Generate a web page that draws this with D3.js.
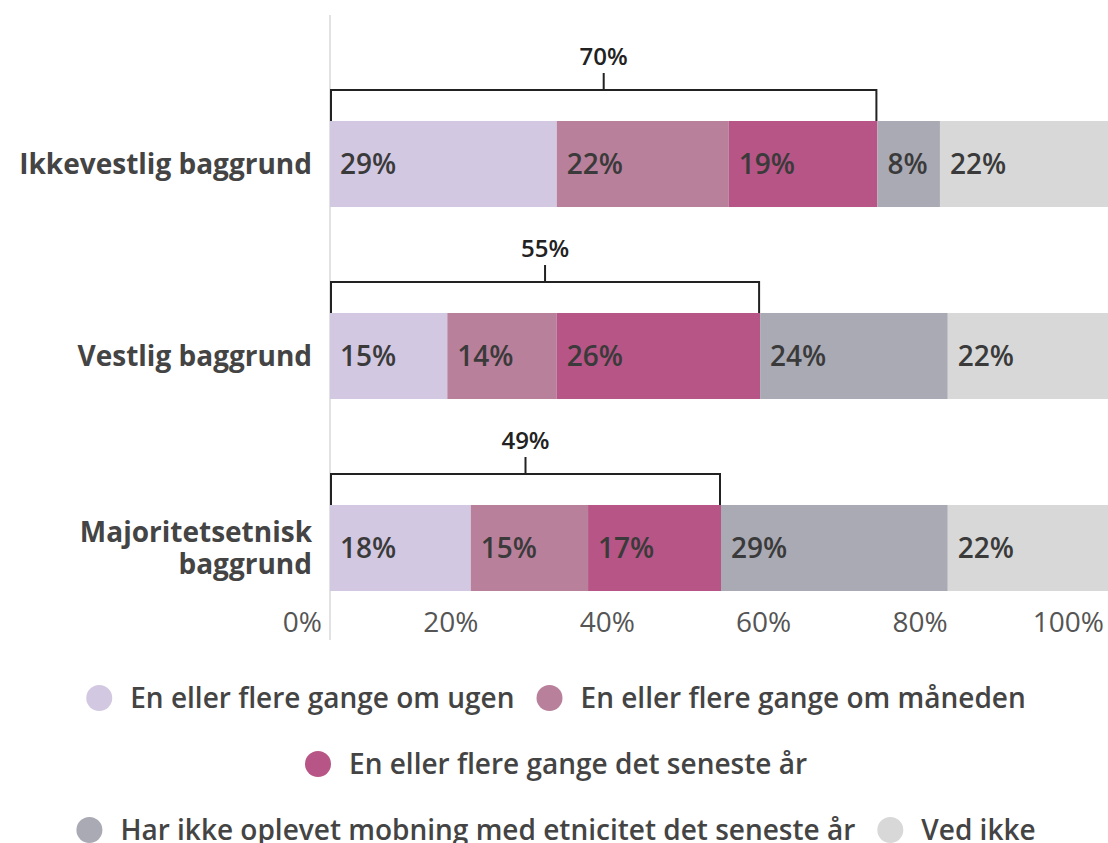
<!DOCTYPE html>
<html>
<head>
<meta charset="utf-8">
<script src="https://cdn.jsdelivr.net/npm/d3@7"></script>
<style>
  body { margin: 0; background: #fff; }
  svg { display: block; font-family: "Open Sans", "Noto Sans", sans-serif; }
</style>
</head>
<body>
<div id="chart"></div>
<script>
const groups = ['Ikkevestlig baggrund', 'Vestlig baggrund', 'Majoritetsetnisk baggrund'];
const series = [
    'En eller flere gange om ugen',
    'En eller flere gange om måneden',
    'En eller flere gange det seneste år',
    'Har ikke oplevet mobning med etnicitet det seneste år',
    'Ved ikke'
];
const colors = ['#d3c8e2', '#b9809c', '#b75586', '#aaaab5', '#d8d8d8'];
const values = [
    [29, 22, 19, 8, 22],
    [15, 14, 26, 24, 22],
    [18, 15, 17, 29, 22]
];
const bracketLabels = ['70%', '55%', '49%'];
const ticks = [0, 20, 40, 60, 80, 100];

const width = 1108, height = 843;

const svg = d3.select('#chart').append('svg')
    .attr('width', width)
    .attr('height', height);

const x = d3.scaleLinear().domain([0, 100]).range([330, 1112]);
const y = d3.scaleBand().domain(groups).range([121, 591]).paddingInner(0.552).paddingOuter(0);

// vertical baseline
svg.append('line')
    .attr('x1', x(0)).attr('x2', x(0))
    .attr('y1', 15).attr('y2', 640)
    .attr('stroke', '#e2e2e2').attr('stroke-width', 2);

const rows = svg.selectAll('g.row')
    .data(groups.map((g, i) => {
        let acc = 0;
        const segs = values[i].map((v, j) => {
            const s = { group: g, key: j, v: v, x0: acc, x1: acc + v };
            acc += v;
            return s;
        });
        return { group: g, i: i, segs: segs };
    }))
    .enter().append('g')
    .attr('class', 'row')
    .attr('transform', d => `translate(0, ${y(d.group)})`);

rows.selectAll('rect')
    .data(d => d.segs)
    .enter().append('rect')
    .attr('x', d => x(d.x0))
    .attr('width', d => x(d.x1) - x(d.x0))
    .attr('y', 0)
    .attr('height', y.bandwidth())
    .attr('fill', d => colors[d.key]);

rows.selectAll('text.val')
    .data(d => d.segs)
    .enter().append('text')
    .attr('class', 'val')
    .attr('x', d => x(d.x0) + 10)
    .attr('y', y.bandwidth() / 2)
    .attr('dy', '0.36em')
    .attr('font-size', 28)
    .attr('font-weight', 600)
    .attr('fill', '#3a3a3a')
    .text(d => d.v + '%');

// brackets over the first three segments
rows.each(function (d) {
    const g = d3.select(this);
    const x0 = x(0), x1 = x(d.segs[2].x1);
    const top = -31;
    g.append('path')
        .attr('d', `M${x0 + 1},0 V${top} H${x1 - 1} V0`)
        .attr('fill', 'none')
        .attr('stroke', '#222')
        .attr('stroke-width', 2);
    const mid = (x0 + x1) / 2;
    g.append('line')
        .attr('x1', mid).attr('x2', mid)
        .attr('y1', top).attr('y2', top - 17)
        .attr('stroke', '#222').attr('stroke-width', 2);
    g.append('text')
        .attr('x', mid)
        .attr('y', top - 25)
        .attr('text-anchor', 'middle')
        .attr('font-size', 24)
        .attr('font-weight', 600)
        .attr('fill', '#222')
        .text(bracketLabels[d.i]);
});

// category labels
rows.append('text')
    .attr('x', 312)
    .attr('y', y.bandwidth() / 2)
    .attr('text-anchor', 'end')
    .attr('font-size', 28)
    .attr('font-weight', 700)
    .attr('fill', '#444')
    .each(function (d) {
        const t = d3.select(this);
        const words = d.group.split(' ');
        const lines = d.group.length > 22 ? [words[0], words.slice(1).join(' ')] : [d.group];
        lines.forEach((l, k) => {
            t.append('tspan')
                .attr('x', 312)
                .attr('dy', k === 0 ? (0.36 - (lines.length - 1) * 0.57) + 'em' : '1.14em')
                .text(l);
        });
    });

// x axis labels
svg.append('g')
    .selectAll('text')
    .data(ticks)
    .enter().append('text')
    .attr('x', d => x(d) - 8)
    .attr('y', 632)
    .attr('text-anchor', 'end')
    .attr('font-size', 28)
    .attr('font-weight', 500)
    .attr('fill', '#555')
    .text(d => d + '%');

// legend, greedy wrap, centered rows
const legend = svg.append('g').attr('class', 'legend');
const items = legend.selectAll('g')
    .data(series.map((s, i) => ({ name: s, color: colors[i] })))
    .enter().append('g');
items.append('circle')
    .attr('r', 13)
    .attr('cx', 13)
    .attr('fill', d => d.color);
items.append('text')
    .attr('x', 44)
    .attr('dy', '0.35em')
    .attr('font-size', 28)
    .attr('font-weight', 600)
    .attr('fill', '#444')
    .text(d => d.name);

const gap = 22, maxW = 1040, cx = 556;
const widths = [];
items.each(function () { widths.push(this.getBBox().width); });
let lines = [[]], lw = 0;
widths.forEach((w, i) => {
    const add = (lines[lines.length - 1].length ? gap : 0) + w;
    if (lines[lines.length - 1].length && lw + add > maxW) {
        lines.push([i]);
        lw = w;
    } else {
        lines[lines.length - 1].push(i);
        lw += add;
    }
});
const nodes = items.nodes();
lines.forEach((ln, r) => {
    const total = d3.sum(ln, i => widths[i]) + gap * (ln.length - 1);
    let px = cx - total / 2;
    ln.forEach(i => {
        d3.select(nodes[i]).attr('transform', `translate(${px}, ${698 + r * 66})`);
        px += widths[i] + gap;
    });
});
</script>
</body>
</html>
